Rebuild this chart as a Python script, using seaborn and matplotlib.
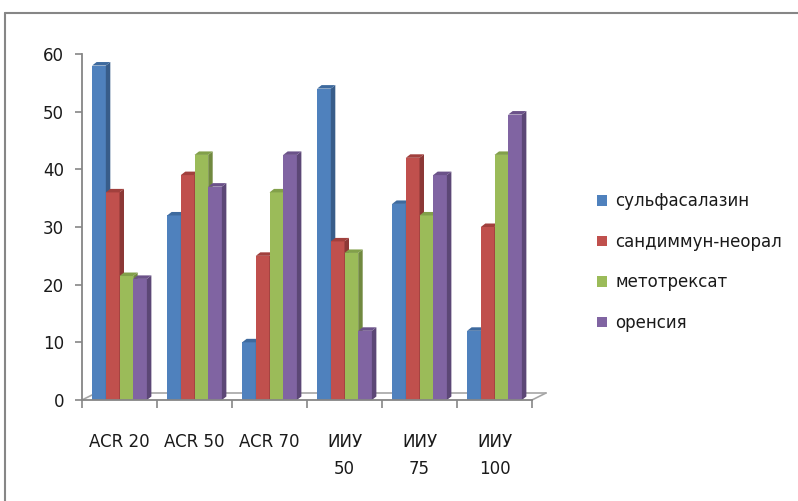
import matplotlib
matplotlib.use("Agg")
import matplotlib.pyplot as plt
import seaborn as sns
import pandas as pd
import numpy as np
from matplotlib.patches import Polygon
from matplotlib.lines import Line2D
import matplotlib.transforms as mtransforms

categories = ["ACR 20", "ACR 50", "ACR 70", "ИИУ\n50", "ИИУ\n75", "ИИУ\n100"]
series_names = ["сульфасалазин", "сандиммун-неорал", "метотрексат", "оренсия"]
sulfasalazin = [58, 32, 10, 54, 34, 12]
sandimmun = [36, 39, 25, 27.5, 42, 30]
metotreksat = [21.5, 42.5, 36, 25.5, 32, 42.5]
orensia = [21, 37, 42.5, 12, 39, 49.5]
yticks = [0, 10, 20, 30, 40, 50, 60]

colors = ["#4F81BD", "#C0504D", "#9BBB59", "#8064A2"]
side_colors = ["#385D8A", "#8C3836", "#71893F", "#5C4776"]
top_colors = ["#3E6A9E", "#A1403D", "#82A04A", "#6B5289"]

rows = []
for name, vals in zip(series_names, [sulfasalazin, sandimmun, metotreksat, orensia]):
    for c, v in zip(categories, vals):
        rows.append({"cat": c, "drug": name, "val": v})
df = pd.DataFrame(rows)

sns.set_theme(style="white")
plt.rcParams['font.family'] = ['DejaVu Sans']

W, H = 798, 501
fig = plt.figure(figsize=(W / 100, H / 100), dpi=100)
ax = fig.add_axes([82 / W, 1 - 400 / H, (532 - 82) / W, (400 - 54) / H])

sns.barplot(data=df, x="cat", y="val", hue="drug", order=categories,
            hue_order=series_names, palette=colors, saturation=1,
            width=0.73, dodge=True, ax=ax, errorbar=None,
            edgecolor="none", linewidth=0, legend=True)

ax.set_xlim(-0.5, 5.5)
ax.set_ylim(0, 60)

# 3D faces derived from the bars
fig.canvas.draw()
pxx = (ax.transData.transform((1, 0))[0] - ax.transData.transform((0, 0))[0])
pxy = (ax.transData.transform((0, 1))[1] - ax.transData.transform((0, 0))[1])
dx = 4.5 / pxx
dy = 3.5 / pxy

bars = [p for p in ax.patches if hasattr(p, "get_height")]
ncat = len(categories)
for i, p in enumerate(bars[:ncat * len(series_names)]):
    s = i // ncat
    x0 = p.get_x()
    w = p.get_width()
    h = p.get_height()
    z = 2 + s * 0.1
    p.set_zorder(z)
    side = Polygon([(x0 + w, 0), (x0 + w, h), (x0 + w + dx, h + dy), (x0 + w + dx, dy)],
                   closed=True, facecolor=side_colors[s], edgecolor="none", zorder=z + 0.05)
    top = Polygon([(x0, h), (x0 + w, h), (x0 + w + dx, h + dy), (x0 + dx, h + dy)],
                  closed=True, facecolor=top_colors[s], edgecolor="none", zorder=z + 0.05)
    ax.add_patch(side)
    ax.add_patch(top)
    side.set_clip_on(False)
    top.set_clip_on(False)

# floor back edge
off = mtransforms.offset_copy(ax.transData, fig=fig, x=14, y=7, units='dots')
ax.plot([-0.5, 5.5], [0, 0], color="#a6a6a6", lw=1.2, transform=off, clip_on=False, zorder=0.5)
ax.plot([5.5, 5.5 + 14 / pxx], [0, 7 / pxy], color="#a6a6a6", lw=1.2, clip_on=False, zorder=0.5)
ax.plot([-0.5, -0.5 + 14 / pxx], [0, 7 / pxy], color="#a6a6a6", lw=1.2, clip_on=False, zorder=0.5)

for sp in ["top", "right"]:
    ax.spines[sp].set_visible(False)
for sp in ["left", "bottom"]:
    ax.spines[sp].set_color("#868686")
    ax.spines[sp].set_linewidth(1.3)

ax.set_yticks(yticks)
ax.set_yticklabels([str(t) for t in yticks])
ax.tick_params(axis="y", direction="out", length=5, width=1.2, color="#868686",
               labelsize=12, labelcolor="#1a1a1a", pad=8, left=True)
ax.set_xticks(range(len(categories)))
ax.set_xticklabels(categories, linespacing=1.6)
ax.set_xticks(np.arange(-0.5, 6, 1), minor=True)
ax.tick_params(axis="x", which="major", length=0, labelsize=12, labelcolor="#1a1a1a", pad=24)
ax.tick_params(axis="x", which="minor", direction="out", length=6, width=1.2,
               color="#868686", bottom=True)
for lab in ax.get_xticklabels():
    lab.set_verticalalignment("top")
ax.set_xlabel("")
ax.set_ylabel("")

handles, labels = ax.get_legend_handles_labels()
ax.get_legend().remove()
fig.legend(handles, labels, loc="center left", bbox_to_anchor=(582 / W, 1 - 262 / H),
           frameon=False, fontsize=12, handlelength=0.6, handleheight=0.6,
           handletextpad=0.5, labelspacing=1.35, labelcolor="#1a1a1a")

# outer frame
fig.add_artist(Line2D([5 / W, 1], [1 - 13 / H, 1 - 13 / H], transform=fig.transFigure,
                      color="#868686", lw=1.5))
fig.add_artist(Line2D([5 / W, 5 / W], [0, 1 - 13 / H], transform=fig.transFigure,
                      color="#868686", lw=1.5))

fig.savefig("out.png", dpi=100)
